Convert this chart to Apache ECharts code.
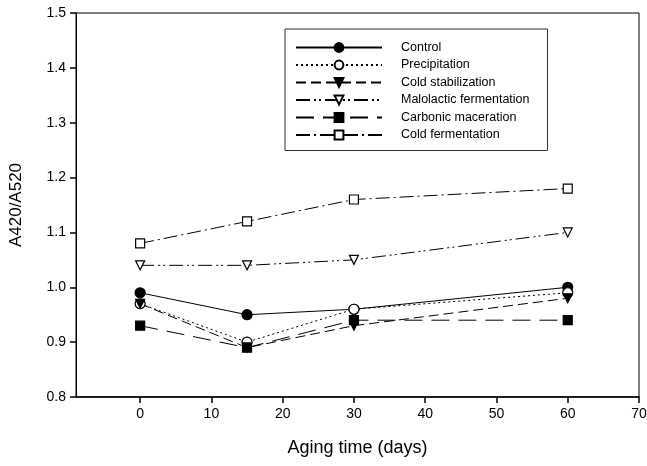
<!DOCTYPE html>
<html>
<head>
<meta charset="utf-8">
<script src="https://cdn.jsdelivr.net/npm/echarts@6/dist/echarts.min.js"></script>
<style>
  html, body { margin: 0; padding: 0; background: #fff; }
  #chart { width: 647px; height: 466px; }
</style>
</head>
<body>
<div id="chart"></div>
<script>
// aging time in days
const days = [0, 15, 30, 60];
const xTicks = [0, 10, 20, 30, 40, 50, 60, 70];

const control = [0.99, 0.95, 0.96, 1.00];
const precipitation = [0.97, 0.90, 0.96, 0.99];
const coldStabilization = [0.97, 0.89, 0.93, 0.98];
const malolactic = [1.04, 1.04, 1.05, 1.10];
const carbonic = [0.93, 0.89, 0.94, 0.94];
const coldFermentation = [1.08, 1.12, 1.16, 1.18];

const font = "Liberation Sans, Arial, sans-serif";

function pairs(values) {
  return days.map((d, i) => [d, values[i]]);
}

function makeSeries(name, values, symbol, filled, dash, rotate) {
  return {
    name: name,
    type: "line",
    data: pairs(values),
    symbol: symbol,
    symbolSize: symbol === "circle" ? 10 : 9,
    symbolRotate: rotate || 0,
    showAllSymbol: true,
    lineStyle: { color: "#000", width: 1, type: dash },
    itemStyle: {
      color: filled ? "#000" : "#fff",
      borderColor: "#000",
      borderWidth: 1.2,
    },
    emphasis: { disabled: true },
    animation: false,
  };
}

const chart = echarts.init(document.getElementById("chart"));

const option = {
  backgroundColor: "#fff",
  animation: false,
  grid: {
    left: 76,
    right: 8,
    top: 13,
    bottom: 69,
    show: true,
    borderColor: "#000",
    borderWidth: 1,
    outerBoundsMode: "none",
    containLabel: false,
  },
  legend: {
    orient: "vertical",
    left: 285,
    top: 29,
    padding: [12, 18, 9, 10],
    itemGap: 4.5,
    itemWidth: 86,
    itemHeight: 11,
    borderColor: "#333",
    borderWidth: 1,
    textStyle: {
      fontFamily: font,
      fontSize: 12.5,
      color: "#000",
      padding: [0, 0, 0, 14],
    },
  },
  xAxis: {
    type: "value",
    min: -9,
    max: 70,
    name: "Aging time (days)",
    nameLocation: "middle",
    nameGap: 42,
    nameTextStyle: { fontFamily: font, fontSize: 18, color: "#000" },
    splitLine: { show: false },
    axisLine: { show: true, onZero: false, lineStyle: { color: "#000", width: 1.5 } },
    axisTick: {
      show: true,
      inside: false,
      customValues: xTicks,
      length: 6,
      lineStyle: { color: "#000", width: 1.5 },
    },
    axisLabel: {
      customValues: xTicks,
      fontFamily: font,
      fontSize: 14,
      color: "#000",
      margin: 10,
    },
  },
  yAxis: {
    type: "value",
    min: 0.8,
    max: 1.5,
    interval: 0.1,
    name: "A420/A520",
    nameLocation: "middle",
    nameGap: 51,
    nameTextStyle: { fontFamily: font, fontSize: 17, color: "#000" },
    splitLine: { show: false },
    axisLine: { show: true, onZero: false, lineStyle: { color: "#000" } },
    axisTick: {
      show: true,
      inside: false,
      length: 6,
      lineStyle: { color: "#000", width: 1.5 },
    },
    axisLabel: {
      fontFamily: font,
      fontSize: 14,
      color: "#000",
      margin: 10,
      formatter: (v) => v.toFixed(1),
    },
  },
  series: [
    makeSeries("Control", control, "circle", true, "solid"),
    makeSeries("Precipitation", precipitation, "circle", false, [2, 3]),
    makeSeries("Cold stabilization", coldStabilization, "triangle", true, [10, 5], 180),
    makeSeries("Malolactic fermentation", malolactic, "triangle", false, [14, 4, 2, 3, 2, 4], 180),
    makeSeries("Carbonic maceration", carbonic, "rect", true, [18, 9]),
    makeSeries("Cold fermentation", coldFermentation, "rect", false, [14, 4, 2, 4]),
  ],
};

chart.setOption(option);
</script>
</body>
</html>
